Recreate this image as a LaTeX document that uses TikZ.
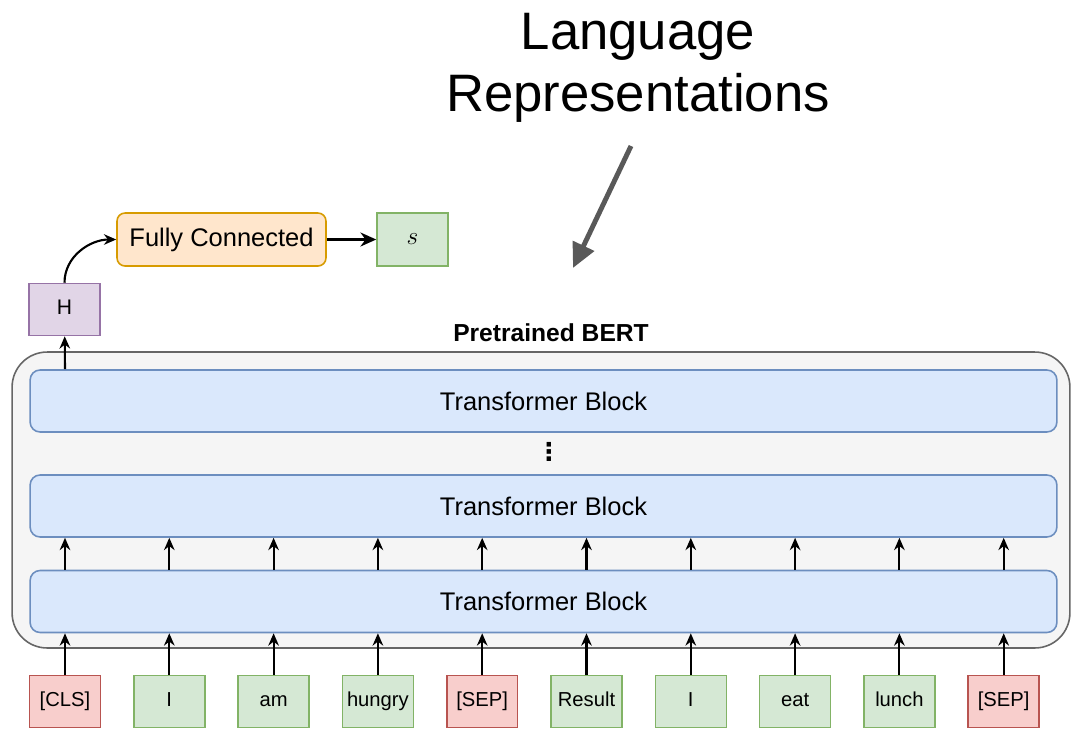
\documentclass[tikz,border=0pt]{standalone}
\usepackage{fontspec}
\setmainfont{Liberation Sans}
\newfontfamily\symfont{DejaVu Sans}
\usetikzlibrary{positioning,arrows.meta}

\definecolor{blockfill}{HTML}{DAE8FC}
\definecolor{blockline}{HTML}{6C8EBF}
\definecolor{bertfill}{HTML}{F5F5F5}
\definecolor{bertline}{HTML}{666666}
\definecolor{wordfill}{HTML}{D5E8D4}
\definecolor{wordline}{HTML}{82B366}
\definecolor{specfill}{HTML}{F8CECC}
\definecolor{specline}{HTML}{B85450}
\definecolor{fcfill}{HTML}{FFE6CC}
\definecolor{fcline}{HTML}{D79B00}
\definecolor{hfill}{HTML}{E1D5E7}
\definecolor{hline}{HTML}{9673A6}

\begin{document}
\begin{tikzpicture}[x=0.02cm, y=-0.02cm,
    >={Stealth[length=7pt, width=6pt]},
    box/.style = {draw, line width=0.9pt, inner sep=0pt, minimum width=1.42cm, minimum height=1.04cm, text height=8.5pt, text depth=2.5pt, font=\fontsize{11.5}{13}\selectfont},
    word/.style = {box, draw=wordline, fill=wordfill},
    special/.style = {box, draw=specline, fill=specfill},
    tblock/.style = {draw=blockline, fill=blockfill, line width=0.9pt, rounded corners=0.2cm, minimum width=20.54cm, minimum height=1.24cm, font=\fontsize{14.5}{17}\selectfont},
    flow/.style = {->, line width=1.2pt}]
    \useasboundingbox (0,0) rectangle (1073,728);

    % BERT container and its layers
    \node[draw=bertline, fill=bertfill, line width=0.9pt, rounded corners=0.7cm, minimum width=21.16cm, minimum height=5.92cm] (bert) at (541,500) {};
    \node[font=\bfseries\fontsize{14}{16}\selectfont] (bertname) at (551,333) {Pretrained BERT};
    \node[tblock] (b1) at (543.5,401) {Transformer Block};
    \node[tblock] (b2) at (543.5,506) {Transformer Block};
    \node[tblock] (b3) at (543.5,601.5) {Transformer Block};
    \node[font=\symfont\bfseries\fontsize{14}{16}\selectfont] (dots) at (549,452) {⋮};

    % input tokens
    \foreach \i/\w/\s in {1/{[CLS]}/special, 2/I/word, 3/am/word, 4/hungry/word, 5/{[SEP]}/special,
                          6/Result/word, 7/I/word, 8/eat/word, 9/lunch/word, 10/{[SEP]}/special} {
        \node[style=\s] (t\i) at ({65+(\i-1)*104.3},701.5) {\w};
        \draw[flow] (t\i) -- (t\i |- b3.south);
        \draw[flow] (t\i |- b3.north) -- (t\i |- b2.south);
    }

    % classification head
    \node[box, draw=hline, fill=hfill, font=\fontsize{12}{14}\selectfont] (h) at (64.5,309.5) {H};
    \node[box, draw=fcline, fill=fcfill, rounded corners=0.16cm, minimum width=4.18cm, minimum height=1.06cm, text height=11pt, text depth=3pt, font=\fontsize{14.5}{17}\selectfont] (fc) at (221.5,239.5) {Fully Connected};
    \node[box, draw=wordline, fill=wordfill, minimum height=1.06cm, font=\fontsize{14}{16}\selectfont] (s) at (412.5,239.5) {$s$};
    \draw[flow] (t1 |- b1.north) -- (h);
    \draw[flow] (h.north) to[out=90, in=180] (fc.west);
    \draw[flow, -{Stealth[length=9pt, width=8pt]}] (fc) -- (s);

    % annotation
    \node[align=center, font=\fontsize{30}{35.5}\selectfont] (lang) at (638,68) {Language\\Representations};
    \coordinate (from) at (631,146);
    \coordinate (to) at (573,268);
    \draw[line width=2.8pt, black!65, -{Triangle[length=14pt, width=13pt]}] (from) -- (to);
\end{tikzpicture}
\end{document}
